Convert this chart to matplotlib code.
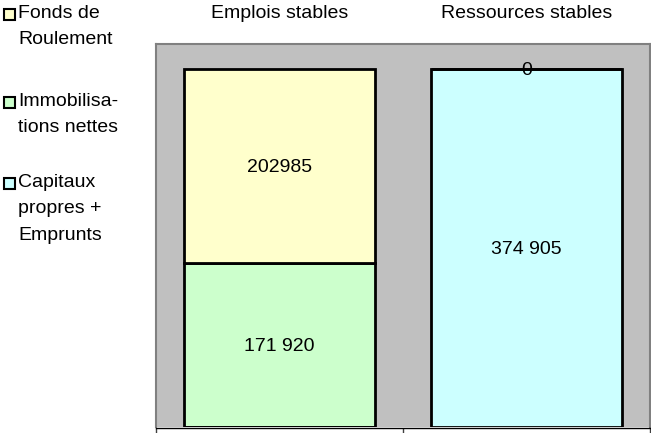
import matplotlib.pyplot as plt
import numpy as np
from matplotlib.patches import Rectangle

plt.rcParams['font.family'] = ['Liberation Sans', 'DejaVu Sans']

categories = ['Emplois stables', 'Ressources stables']
immobilisations = [171920, np.nan]
capitaux = [np.nan, 374905]
fonds_roulement = [202985, 0]

immo_labels = ['171 920', '']
capitaux_labels = ['', '374 905']
fdr_labels = ['202985', '0']

legend_labels = [['Fonds de', 'Roulement'],
                 ['Immobilisa-', 'tions nettes'],
                 ['Capitaux', 'propres +', 'Emprunts']]
legend_colors = ['#FFFFCC', '#CCFFCC', '#CCFFFF']

W, H = 651, 433
fig = plt.figure(figsize=(W / 100, H / 100), dpi=100)
ax = fig.add_axes([156 / W, 1 - 427 / H, 494 / W, 383 / H])
ax.set_facecolor('#C0C0C0')

x = np.arange(len(categories))
width = 0.77
imm = np.nan_to_num(immobilisations)
cap = np.nan_to_num(capitaux)
base_fdr = imm + cap

ax.bar(x, imm, width, color='#CCFFCC', edgecolor='black', linewidth=2)
ax.bar(x, cap, width, color='#CCFFFF', edgecolor='black', linewidth=2)
ax.bar(x, fonds_roulement, width, bottom=base_fdr, color='#FFFFCC',
       edgecolor='black', linewidth=2)

fs = 14
for i in range(len(categories)):
    if immo_labels[i]:
        ax.text(x[i], imm[i] / 2, immo_labels[i], ha='center',
                va='center_baseline', fontsize=fs)
    if capitaux_labels[i]:
        ax.text(x[i], cap[i] / 2, capitaux_labels[i], ha='center',
                va='center_baseline', fontsize=fs)
    ax.text(x[i], base_fdr[i] + fonds_roulement[i] / 2, fdr_labels[i],
            ha='center', va='center_baseline', fontsize=fs)

ax.set_xlim(-0.5, 1.5)
ax.set_ylim(0, 401000)
ax.set_yticks([])
ax.set_xticks([-0.5, 0.5, 1.5])
ax.set_xticklabels([])
ax.tick_params(axis='x', direction='out', length=6, color='#404040', width=1)

for side in ['left', 'top', 'right']:
    ax.spines[side].set_color('#808080')
    ax.spines[side].set_linewidth(1.5)
ax.spines['bottom'].set_color('black')
ax.spines['bottom'].set_linewidth(1)
ax.spines['bottom'].set_position(('outward', 1))

# category names above the plot
for i, c in enumerate(categories):
    ax.text(x[i], 1 + 30 / 383, c, transform=ax.get_xaxis_transform(),
            ha='center', va='center', fontsize=fs)

# legend on the left
first_y = [14, 102, 183]
for lines, col, y0 in zip(legend_labels, legend_colors, first_y):
    fig.patches.append(Rectangle((4 / W, 1 - (y0 + 5.5) / H), 11 / W, 11 / H,
                                 transform=fig.transFigure, facecolor=col,
                                 edgecolor='black', linewidth=1.5))
    for j, line in enumerate(lines):
        fig.text(18 / W, 1 - (y0 + 26 * j) / H, line, ha='left', va='center', fontsize=fs)

fig.savefig('out.png', dpi=100)
